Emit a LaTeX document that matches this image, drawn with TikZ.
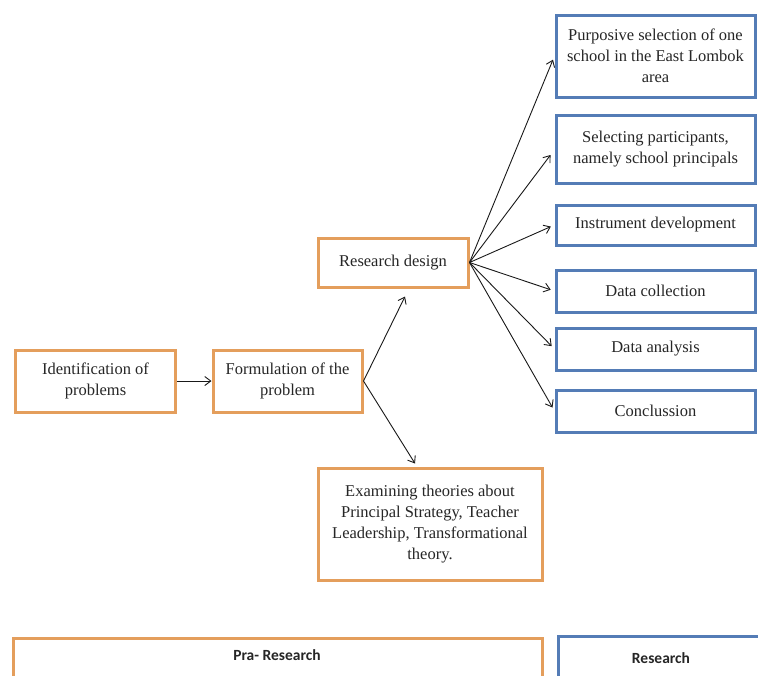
\documentclass[tikz,border=0pt]{standalone}
\usepackage{fontspec}
\setmainfont{Liberation Serif}
\newfontfamily\labelsans{Carlito}
\usetikzlibrary{arrows.meta,calc}
\definecolor{boxorange}{RGB}{228,158,92}
\definecolor{boxblue}{RGB}{84,124,182}
\tikzset{
  obox/.style={draw=boxorange, line width=3pt, fill=white, align=center, inner sep=2pt,
    font=\fontsize{16.5}{21}\selectfont, text=black!85},
  bbox/.style={draw=boxblue, line width=3pt, fill=white, align=center, inner sep=2pt,
    minimum width=199pt, font=\fontsize{16.5}{21}\selectfont, text=black!85},
  conn/.style={draw=black!90, line width=0.9pt, -{Straight Barb[length=6pt,width=9pt]}},
  footer/.style={font=\labelsans\bfseries\fontsize{15.5}{18}\selectfont, text=black!85}
}
\begin{document}
\begin{tikzpicture}[x=1pt,y=-1pt]
\useasboundingbox[fill=white] (0,0) rectangle (758,675);
% orange boxes
\node[obox, minimum width=160pt, minimum height=62pt] (ident) at (95.5,381) {Identification of\\problems};
\node[obox, minimum width=149pt, minimum height=62pt] (form) at (287.5,381) {Formulation of the\\problem};
\node[obox, minimum width=150pt, minimum height=49pt] (rd) at (393,262.5) {Research design};
\node[obox, minimum width=224pt, minimum height=112pt] (exam) at (430,524) {Examining theories about\\Principal Strategy, Teacher\\Leadership, Transformational\\theory.};
% blue boxes
\node[bbox, minimum height=82pt] (b1) at (655.5,56) {Purposive selection of one\\school in the East Lombok\\area};
\node[bbox, minimum height=68pt] (b2) at (655.5,149) {Selecting participants,\\namely school principals};
\node[bbox, minimum height=40pt] (b3) at (655.5,225) {Instrument development};
\node[bbox, minimum height=42pt] (b4) at (655.5,291) {Data collection};
\node[bbox, minimum height=42pt] (b5) at (655.5,349) {Data analysis};
\node[bbox, minimum height=42pt] (b6) at (655.5,411) {Conclussion};
% connectors
\draw[conn] (ident.east) -- (form.east -| form.west);
\coordinate (rdin) at ($(rd.south)+(12,8)$);
\coordinate (exin) at ($(exam.north)+(-15,-3)$);
\draw[conn] (form.east) -- (rdin);
\draw[conn] (form.east) -- (exin);
\foreach \b in {b1,b3,b4,b5,b6}{
  \draw[conn, shorten >=4pt] (rd.east) -- (\b.west);
}
\coordinate (b2in) at ($(b2.west)+(-4,6)$);
\draw[conn] (rd.east) -- (b2in);
% footer
\node[draw=boxorange, line width=3pt, minimum width=529pt, minimum height=60pt, anchor=north west] (pra) at (12,637) {};
\node[footer] (pratext) at (277,655) {Pra- Research};
\node[draw=boxblue, line width=3pt, minimum width=210pt, minimum height=60pt, anchor=north west] (res) at (557,635) {};
\node[footer] (restext) at (661,658) {Research};
\end{tikzpicture}
\end{document}
